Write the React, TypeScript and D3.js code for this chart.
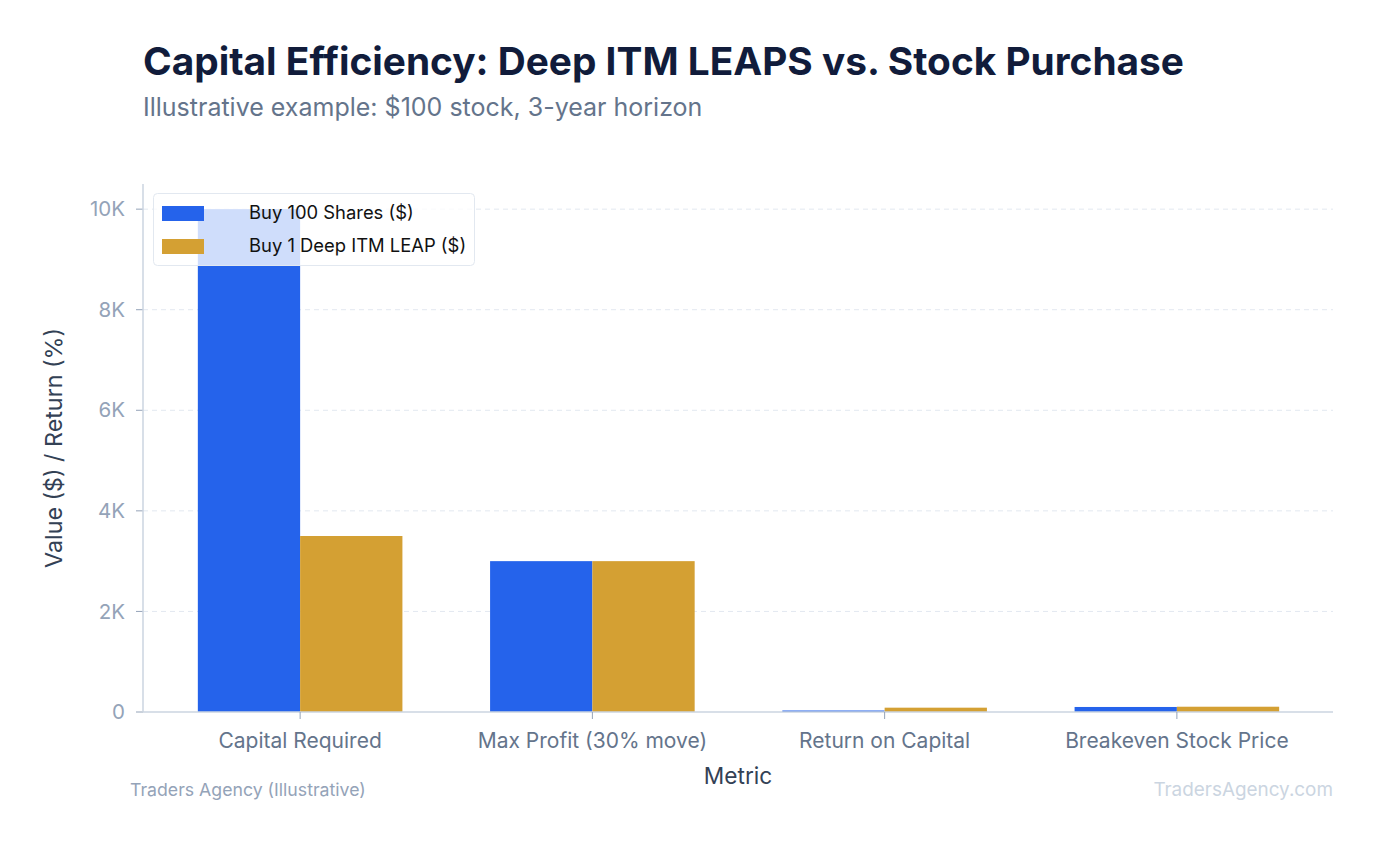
import * as d3 from 'd3';

const categories = ['Capital Required', 'Max Profit (30% move)', 'Return on Capital', 'Breakeven Stock Price'];
const seriesNames = ['Buy 100 Shares ($)', 'Buy 1 Deep ITM LEAP ($)'];
const sharesValues = [10000, 3000, 30, 100];
const leapValues = [3500, 3000, 86, 105];
const yTicks = [0, 2000, 4000, 6000, 8000, 10000];
const yTickLabels = ['0', '2K', '4K', '6K', '8K', '10K'];
const colors = ['#2563eb', '#d4a033'];

const W = 1378;
const H = 845;
const FONT = 'Inter, "Noto Sans", sans-serif';

export default function App() {
  const axisLeft = 143;
  const axisRight = 1333;
  const x = d3.scaleBand<string>()
    .domain(categories)
    .range([154, 1323])
    .paddingInner(0.3)
    .paddingOuter(0.15);
  const sub = d3.scaleBand<number>()
    .domain([0, 1])
    .range([0, x.bandwidth()]);
  const y = d3.scaleLinear()
    .domain([0, 10500])
    .range([712, 184]);

  const series = [sharesValues, leapValues];

  return (
    <svg width={W} height={H} style={{ position: 'absolute', left: 0, top: 0, fontFamily: FONT }}>
      <rect width={W} height={H} fill="#ffffff" />
      <text x={143} y={75} fontSize={38.8} fontWeight={700} fill="#111c3b">
        Capital Efficiency: Deep ITM LEAPS vs. Stock Purchase
      </text>
      <text x={143} y={116} fontSize={25} fill="#64748b">
        Illustrative example: $100 stock, 3-year horizon
      </text>

      {/* grid */}
      {yTicks.map((t, i) => (
        <g key={t} transform={`translate(0,${y(t)})`}>
          {t > 0 && (
            <line x1={axisLeft} x2={axisRight} stroke="#e2e8f0" strokeDasharray="5,4" />
          )}
          <line x1={axisLeft - 7} x2={axisLeft} stroke="#94a3b8" />
          <text x={axisLeft - 18} dy="0.35em" textAnchor="end" fontSize={20.5} fill="#94a3b8">
            {yTickLabels[i]}
          </text>
        </g>
      ))}

      {/* bars */}
      {series.map((vals, si) => (
        <g key={si}>
          {categories.map((c, ci) => (
            <rect
              key={c}
              x={(x(c) ?? 0) + (sub(si) ?? 0)}
              y={y(vals[ci])}
              width={sub.bandwidth()}
              height={y(0) - y(vals[ci])}
              fill={colors[si]}
            />
          ))}
        </g>
      ))}

      {/* axes */}
      <line x1={axisLeft} x2={axisLeft} y1={184} y2={712} stroke="#cbd5e1" strokeWidth={1.5} />
      <line x1={axisLeft} x2={axisRight} y1={712} y2={712} stroke="#cbd5e1" strokeWidth={1.5} />
      {categories.map(c => {
        const cx = (x(c) ?? 0) + x.bandwidth() / 2;
        return (
          <g key={c} transform={`translate(${cx},712)`}>
            <line y2={7} stroke="#94a3b8" />
            <text y={36} textAnchor="middle" fontSize={21} fill="#64748b">{c}</text>
          </g>
        );
      })}

      <text x={738} y={784} textAnchor="middle" fontSize={22.7} fill="#334155">Metric</text>
      <text
        transform={`translate(62,448) rotate(-90)`}
        textAnchor="middle"
        fontSize={23.3}
        fill="#334155"
      >
        Value ($) / Return (%)
      </text>

      {/* legend */}
      <g>
        <rect x={153.5} y={193.5} width={321} height={72} rx={4}
          fill="#ffffff" fillOpacity={0.78} stroke="#e2e8f0" />
        {seriesNames.map((s, i) => (
          <g key={s} transform={`translate(162,${213 + i * 33})`}>
            <rect x={0} y={-7} width={42} height={15} fill={colors[i]} />
            <text x={87} dy="0.35em" fontSize={18.4} fill="#111111">{s}</text>
          </g>
        ))}
      </g>

      <text x={130} y={796} fontSize={17.7} fill="#94a3b8">Traders Agency (Illustrative)</text>
      <text x={1333} y={796} textAnchor="end" fontSize={18.9} fill="#cbd5e1">TradersAgency.com</text>
    </svg>
  );
}
